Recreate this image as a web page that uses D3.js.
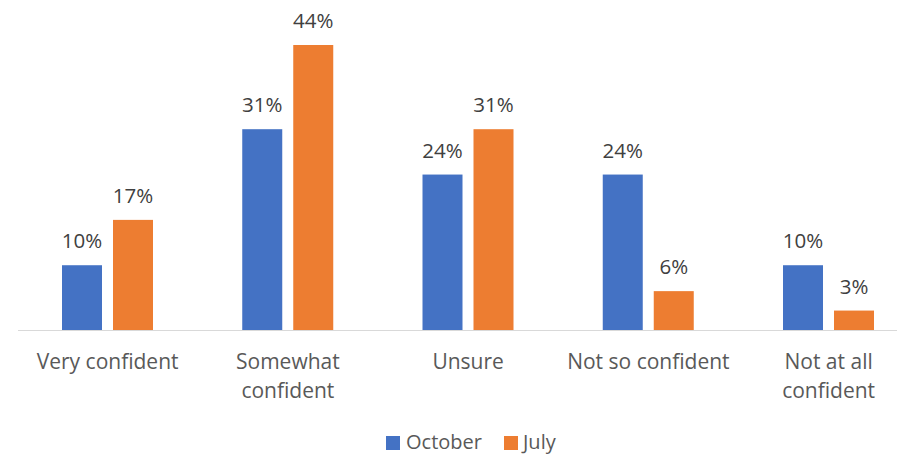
<!DOCTYPE html>
<html>
<head>
<meta charset="utf-8">
<script src="https://cdn.jsdelivr.net/npm/d3@7"></script>
<style>
  html, body { margin: 0; padding: 0; background: #fff; }
  svg { display: block; font-family: "Open Sans", "Noto Sans", sans-serif; }
</style>
</head>
<body>
<svg id="chart" width="897" height="454"></svg>
<script>
// Confidence survey results, October vs July
const categories = [["Very confident"], ["Somewhat", "confident"], ["Unsure"], ["Not so confident"], ["Not at all", "confident"]];
const seriesNames = ["October", "July"];
const october = [10, 31, 24, 24, 10];
const july = [17, 44, 31, 6, 3];
const colors = ["#4472C4", "#ED7D31"];

const svg = d3.select("#chart");
const baseY = 330;

const x = d3.scaleBand()
  .domain(d3.range(categories.length))
  .range([17.5, 918.75]);

// two bars per group, 40px wide with an 11px gap
const sub = d3.scaleBand()
  .domain(seriesNames)
  .range([44.5, 44.5 + 91])
  .paddingInner(11 / 51);

const y = d3.scaleLinear().domain([0, 44]).range([baseY, 45]);

const rows = [october, july];

// bars and value labels
seriesNames.forEach((name, si) => {
  const g = svg.append("g");
  g.selectAll("rect")
    .data(rows[si])
    .join("rect")
    .attr("x", (d, i) => x(i) + sub(name))
    .attr("y", d => y(d))
    .attr("width", sub.bandwidth())
    .attr("height", d => baseY - y(d))
    .attr("fill", colors[si]);
  g.selectAll("text")
    .data(rows[si])
    .join("text")
    .attr("x", (d, i) => x(i) + sub(name) + sub.bandwidth() / 2)
    .attr("y", d => y(d) - 17)
    .attr("text-anchor", "middle")
    .attr("font-size", 20.5)
    .attr("fill", "#404040")
    .text(d => d + "%");
});

// category axis
const axis = d3.axisBottom(x).tickSize(0).tickFormat("");
const ax = svg.append("g").attr("transform", `translate(0,${baseY + 0.5})`).call(axis);
ax.select(".domain").attr("stroke", "#D9D9D9").attr("stroke-width", 1.2).attr("d", "M18,0H897");

categories.forEach((lines, i) => {
  const t = svg.append("text")
    .attr("text-anchor", "middle")
    .attr("font-size", 21)
    .attr("fill", "#595959");
  lines.forEach((ln, k) => {
    t.append("tspan")
      .attr("x", x(i) + x.bandwidth() / 2)
      .attr("y", 369 + k * 29)
      .text(ln);
  });
});

// legend
const legend = svg.append("g");
const legendItems = [{ name: "October", sx: 386, tx: 406 }, { name: "July", sx: 504, tx: 523 }];
legendItems.forEach((it, i) => {
  legend.append("rect")
    .attr("x", it.sx).attr("y", 436).attr("width", 14).attr("height", 14)
    .attr("fill", colors[i]);
  legend.append("text")
    .attr("x", it.tx).attr("y", 448.5)
    .attr("font-size", 20)
    .attr("fill", "#595959")
    .text(it.name);
});
</script>
</body>
</html>
